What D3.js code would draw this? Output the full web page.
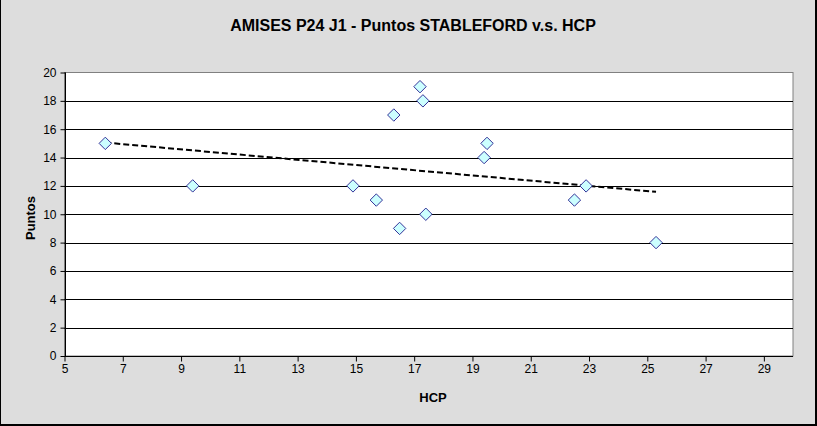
<!DOCTYPE html>
<html>
<head>
<meta charset="utf-8">
<script src="https://cdn.jsdelivr.net/npm/d3@7"></script>
<style>
  html, body { margin: 0; padding: 0; background: #fff; }
  svg { display: block; font-family: "Liberation Sans", Arial, sans-serif; }
</style>
</head>
<body>
<svg id="chart" width="817" height="426"></svg>
<script>
// ---- data ----
const hcp    = [6.4, 9.4, 14.9, 15.7, 16.3, 16.5, 17.2, 17.3, 17.4, 19.4, 19.5, 22.5, 22.9, 25.3];
const puntos = [15, 12, 12, 11, 17, 9, 19, 18, 10, 14, 15, 11, 12, 8];
const xTicks = [5, 7, 9, 11, 13, 15, 17, 19, 21, 23, 25, 27, 29];
const yTicks = [0, 2, 4, 6, 8, 10, 12, 14, 16, 18, 20];
const titleText = "AMISES P24 J1 - Puntos STABLEFORD v.s. HCP";
const xTitle = "HCP";
const yTitle = "Puntos";

const W = 817, H = 426;
const plot = { left: 64.5, top: 72.5, right: 793, bottom: 356 };

const svg = d3.select("#chart");

// chart area background
svg.append("rect").attr("x", 0).attr("y", 0).attr("width", W).attr("height", H).attr("fill", "#DDDDDD");
// outer border (shadow style)
svg.append("line").attr("x1", 0.5).attr("y1", 0).attr("x2", 0.5).attr("y2", H).attr("stroke", "#000");
svg.append("rect").attr("x", W - 2).attr("y", 0).attr("width", 2).attr("height", H).attr("fill", "#000");
svg.append("rect").attr("x", 0).attr("y", H - 2).attr("width", W).attr("height", 2).attr("fill", "#000");

const x = d3.scaleLinear().domain([5, 30]).range([plot.left, plot.right]);
const y = d3.scaleLinear().domain([0, 20]).range([plot.bottom, plot.top]);

// plot area
svg.append("rect")
  .attr("x", plot.left).attr("y", plot.top)
  .attr("width", plot.right - plot.left).attr("height", plot.bottom - plot.top)
  .attr("fill", "#fff").attr("stroke", "#808080").attr("stroke-width", 1);

// gridlines
svg.append("g").selectAll("line").data(yTicks.filter(d => d > 0 && d < 20)).join("line")
  .attr("x1", plot.left).attr("x2", plot.right)
  .attr("y1", d => Math.round(y(d)) + 0.5).attr("y2", d => Math.round(y(d)) + 0.5)
  .attr("stroke", "#000").attr("stroke-width", 1);

// axes
const yAxis = d3.axisLeft(y).tickValues(yTicks).tickSize(5).tickPadding(4);
const xAxis = d3.axisBottom(x).tickValues(xTicks).tickSize(5).tickPadding(3);

const gy = svg.append("g").attr("transform", `translate(${Math.round(plot.left) + 0.5},0)`).call(yAxis);
const gx = svg.append("g").attr("transform", `translate(0,${Math.round(plot.bottom) + 0.5})`).call(xAxis);
[gy, gx].forEach(g => {
  g.select(".domain").attr("stroke", "#000");
  g.selectAll(".tick line").attr("stroke", "#000");
  g.selectAll("text").attr("font-size", 12).attr("fill", "#000")
    .attr("font-family", "'Liberation Sans', Arial, sans-serif");
});
gy.select(".domain").attr("d", `M0,${plot.top}V${Math.round(plot.bottom) + 0.5}`);
gx.select(".domain").attr("d", `M${plot.left},0H${plot.right}`);

// trendline (least squares from data)
const mx = d3.mean(hcp), my = d3.mean(puntos);
let sxy = 0, sxx = 0;
hcp.forEach((v, i) => { sxy += (v - mx) * (puntos[i] - my); sxx += (v - mx) * (v - mx); });
const slope = sxy / sxx, intercept = my - slope * mx;
const x0 = d3.min(hcp), x1 = d3.max(hcp);
svg.append("line")
  .attr("x1", x(x0)).attr("y1", y(intercept + slope * x0))
  .attr("x2", x(x1)).attr("y2", y(intercept + slope * x1))
  .attr("stroke", "#000").attr("stroke-width", 2).attr("stroke-dasharray", "6,3");

// markers
const sym = d3.symbol().type(d3.symbolDiamond2).size(98);
svg.append("g").selectAll("path").data(hcp.map((v, i) => [v, puntos[i]])).join("path")
  .attr("d", sym)
  .attr("transform", d => `translate(${x(d[0])},${y(d[1])})`)
  .attr("fill", "#CCFFFF").attr("stroke", "#333399").attr("stroke-width", 1);

// titles
svg.append("text").attr("x", 413).attr("y", 31).attr("text-anchor", "middle")
  .attr("font-size", 16).attr("font-weight", "bold").text(titleText);
svg.append("text").attr("x", 433).attr("y", 402).attr("text-anchor", "middle")
  .attr("font-size", 13).attr("font-weight", "bold").text(xTitle);
svg.append("text").attr("transform", "translate(35,218) rotate(-90)").attr("text-anchor", "middle")
  .attr("font-size", 13).attr("font-weight", "bold").text(yTitle);
</script>
</body>
</html>
